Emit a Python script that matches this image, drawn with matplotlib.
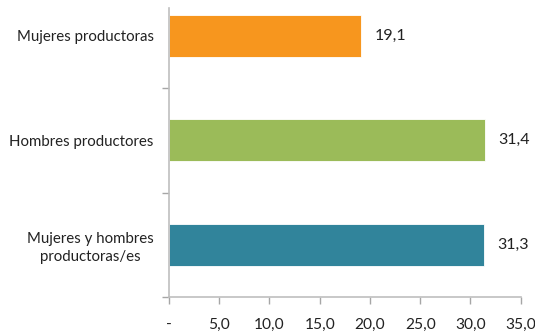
import matplotlib
matplotlib.use("Agg")
import matplotlib.pyplot as plt

categories = ["Mujeres productoras", "Hombres productores", "Mujeres y hombres\nproductoras/es"]
values = [19.1, 31.4, 31.3]
value_labels = ["19,1", "31,4", "31,3"]
colors = ["#F7961E", "#9BBB59", "#31849B"]
xticks = [0, 5, 10, 15, 20, 25, 30, 35]
xtick_labels = ["-", "5,0", "10,0", "15,0", "20,0", "25,0", "30,0", "35,0"]

plt.rcParams["font.family"] = ["Lato", "DejaVu Sans"]
fig = plt.figure(figsize=(5.35, 3.33), dpi=100)
ax = fig.add_axes([169/535, 1-297/333, (520.7-169)/535, (297-8)/333])

ypos = list(range(len(categories)))
bars = ax.barh(ypos, values, height=0.40, color=colors, edgecolor="white", linewidth=0.6)
for y, v, lab in zip(ypos, values, value_labels):
    ax.annotate(lab, (v, y), xytext=(10, 0), textcoords="offset points",
                ha="left", va="center", fontsize=11.5, color="#222222")

ax.set_xlim(0, 35)
ax.set_ylim(2.5, -0.266)
ax.set_xticks(xticks)
ax.set_xticklabels(xtick_labels, fontsize=11.2, color="#222222")
ax.set_yticks([0.5, 1.5, 2.5])
ax.set_yticklabels([])
ax.set_yticks(ypos, minor=True)
ax.set_yticklabels(categories, minor=True, fontsize=10.8, color="#222222", ha="right",
                   multialignment="center", linespacing=1.35)
ax.tick_params(axis="y", which="minor", length=0, pad=11)
ax.tick_params(axis="y", which="major", length=5, color="#A6A6A6", width=1)
ax.tick_params(axis="x", length=5, color="#A6A6A6", width=1, pad=10)

for s in ["top", "right"]:
    ax.spines[s].set_visible(False)
for s in ["left", "bottom"]:
    ax.spines[s].set_color("#BFBFBF")
    ax.spines[s].set_linewidth(1.2)

fig.savefig("out.png", dpi=100)
